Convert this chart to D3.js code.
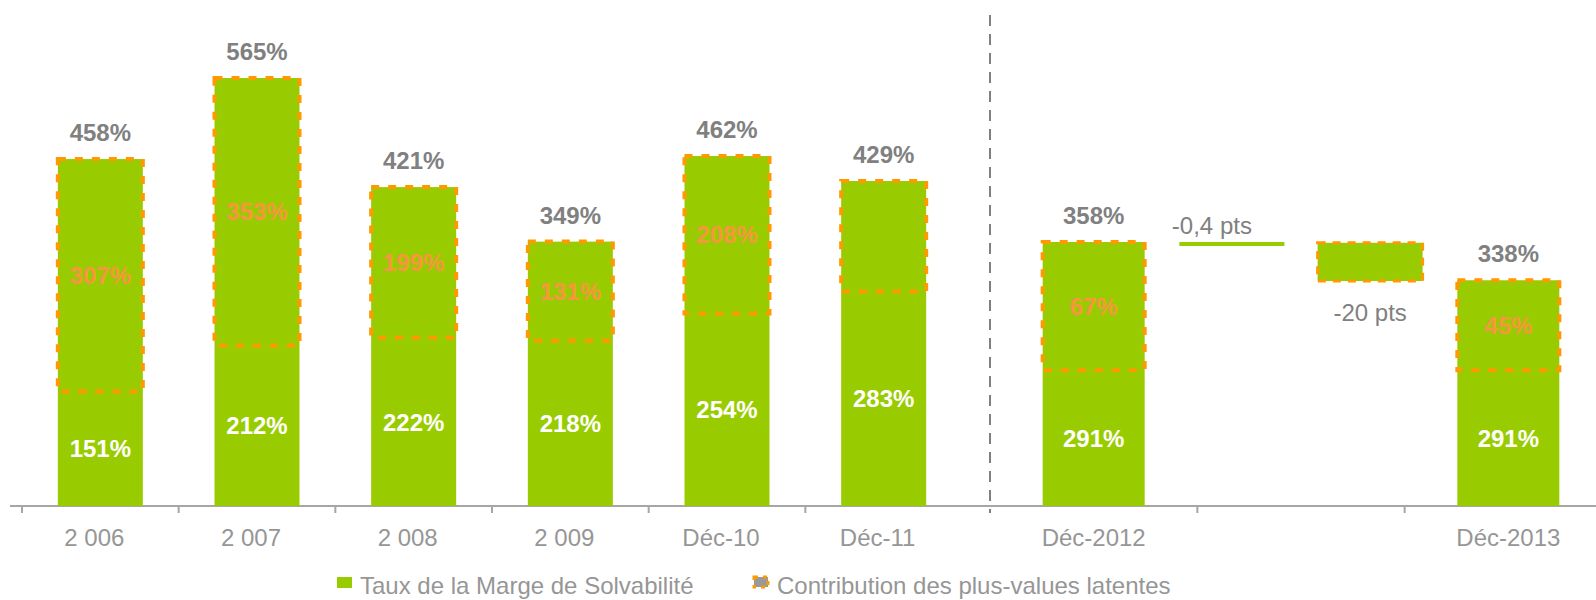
<!DOCTYPE html>
<html>
<head>
<meta charset="utf-8">
<script src="https://cdn.jsdelivr.net/npm/d3@7"></script>
<style>
  html, body { margin: 0; padding: 0; background: #fff; }
  svg { display: block; font-family: "Liberation Sans", Arial, sans-serif; }
</style>
</head>
<body>
<svg id="chart" width="1596" height="600"></svg>
<script>
// ---- Data ----
const leftCats = ["2 006", "2 007", "2 008", "2 009", "Déc-10", "Déc-11"];
const leftTotals = [458, 565, 421, 349, 462, 429];
const leftBases = [151, 212, 222, 218, 254, 283];
const leftContrib = [307, 353, 199, 131, 208, null];

const rightGroups = ["Déc-2012", "Variation", "Déc-2013"];
const rightTickLabels = ["Déc-2012", "", "Déc-2013"];
const rightBarCats = ["Déc-2012", "Déc-2013"];
const rightTotals = [358, 338];
const rightBases = [291, 291];
const rightContrib = [67, 45];

const stepLabels = ["-0,4 pts", "-20 pts"];
const stepValues = [-0.4, -20];

const legendLabels = ["Taux de la Marge de Solvabilité", "Contribution des plus-values latentes"];

// ---- Styles ----
const GREEN = "#99CC00", ORANGE = "#FF9900", CONTRIB_TXT = "#F7963E";
const GRAY_DARK = "#808080", GRAY_TXT = "#969696", AXIS = "#a6a6a6";
const FS = 24;

const svg = d3.select("#chart");
const baseY = 506;

// ---- Scales ----
const xL = d3.scaleBand().domain(leftCats).range([22, 962]);
const yL = d3.scaleLinear().domain([0, 565]).range([baseY, 78]);
const xR = d3.scaleBand().domain(rightGroups).range([990, 1612]);
const yR = d3.scaleLinear().domain([220, 358]).range([baseY, 242]);
const xStep = d3.scalePoint().domain(stepLabels)
  .range([xR("Variation"), xR("Variation") + xR.bandwidth()]).padding(0.25);

const barWL = 85, barWR = 102, stepW = 105;

// ---- Axis ----
svg.append("line").attr("x1", 10).attr("x2", 1596).attr("y1", baseY).attr("y2", baseY)
  .attr("stroke", AXIS).attr("stroke-width", 2);

const leftTicks = leftCats.map(c => xL(c));
const rightTicks = rightGroups.slice(1).map(g => xR(g));
svg.selectAll("line.tick").data(leftTicks.concat(rightTicks)).enter().append("line")
  .attr("class", "tick")
  .attr("x1", d => d).attr("x2", d => d).attr("y1", baseY).attr("y2", baseY + 7)
  .attr("stroke", AXIS).attr("stroke-width", 2);

// separator
svg.append("line").attr("x1", xR.range()[0]).attr("x2", xR.range()[0])
  .attr("y1", 15).attr("y2", baseY + 7)
  .attr("stroke", GRAY_DARK).attr("stroke-width", 2).attr("stroke-dasharray", "11,8");

// tick labels
svg.selectAll("text.xl").data(leftCats).enter().append("text")
  .attr("x", d => xL(d) + xL.bandwidth() / 2 - 6).attr("y", 546)
  .attr("text-anchor", "middle").attr("font-size", FS).attr("fill", GRAY_TXT).text(d => d);
svg.selectAll("text.xr").data(rightGroups).enter().append("text")
  .attr("x", d => xR(d) + xR.bandwidth() / 2).attr("y", 546)
  .attr("text-anchor", "middle").attr("font-size", FS).attr("fill", GRAY_TXT)
  .text((d, i) => rightTickLabels[i]);

// ---- Bars ----
function drawBars(cats, totals, bases, contrib, xc, y, w) {
  const g = svg.append("g");
  cats.forEach((c, i) => {
    const cx = xc(c);
    const x0 = cx - w / 2;
    g.append("rect").attr("x", x0).attr("y", y(totals[i]))
      .attr("width", w).attr("height", baseY - y(totals[i])).attr("fill", GREEN);
    g.append("rect").attr("x", x0).attr("y", y(totals[i]))
      .attr("width", w).attr("height", y(bases[i]) - y(totals[i]))
      .attr("fill", "none").attr("stroke", ORANGE).attr("stroke-width", 4)
      .attr("stroke-dasharray", "8,9");
    // total label
    g.append("text").attr("x", cx).attr("y", y(totals[i]) - 18)
      .attr("text-anchor", "middle").attr("font-size", FS).attr("font-weight", "bold")
      .attr("fill", GRAY_DARK).text(totals[i] + "%");
    // contribution label
    if (contrib[i] != null) {
      g.append("text").attr("x", cx).attr("y", (y(totals[i]) + y(bases[i])) / 2)
        .attr("dy", "0.36em")
        .attr("text-anchor", "middle").attr("font-size", FS).attr("font-weight", "bold")
        .attr("fill", CONTRIB_TXT).text(contrib[i] + "%");
    }
    // base label
    g.append("text").attr("x", cx).attr("y", (y(bases[i]) + baseY) / 2)
      .attr("dy", "0.36em")
      .attr("text-anchor", "middle").attr("font-size", FS).attr("font-weight", "bold")
      .attr("fill", "#fff").text(bases[i] + "%");
  });
}
drawBars(leftCats, leftTotals, leftBases, leftContrib, c => xL(c) + xL.bandwidth() / 2, yL, barWL);
drawBars(rightBarCats, rightTotals, rightBases, rightContrib, c => xR(c) + xR.bandwidth() / 2, yR, barWR);

// ---- Waterfall steps ----
let level = rightTotals[0];
stepLabels.forEach((lab, i) => {
  const next = level + stepValues[i];
  const yTop = yR(Math.max(level, next));
  const hRaw = Math.abs(yR(next) - yR(level));
  const h = Math.max(4, hRaw);
  const cx = xStep(lab);
  const thin = hRaw < 4;
  svg.append("rect").attr("x", cx - stepW / 2).attr("y", yTop).attr("width", stepW)
    .attr("height", h).attr("fill", GREEN);
  if (!thin) {
    svg.append("rect").attr("x", cx - stepW / 2).attr("y", yTop).attr("width", stepW)
      .attr("height", h).attr("fill", "none").attr("stroke", ORANGE)
      .attr("stroke-width", 3).attr("stroke-dasharray", "8,7");
  }
  svg.append("text").attr("x", thin ? cx - 20 : cx)
    .attr("y", thin ? yTop - 8 : yTop + h + 40)
    .attr("text-anchor", "middle").attr("font-size", FS).attr("fill", GRAY_DARK).text(lab);
  level = next;
});

// ---- Legend ----
const lg = svg.append("g");
lg.append("rect").attr("x", 337).attr("y", 577).attr("width", 15).attr("height", 11).attr("fill", GREEN);
lg.append("text").attr("x", 360).attr("y", 594).attr("font-size", FS).attr("fill", GRAY_TXT).text(legendLabels[0]);
lg.append("rect").attr("x", 754).attr("y", 577).attr("width", 14).attr("height", 10)
  .attr("fill", "#999").attr("stroke", ORANGE).attr("stroke-width", 3).attr("stroke-dasharray", "4,5");
lg.append("text").attr("x", 777).attr("y", 594).attr("font-size", FS).attr("fill", GRAY_TXT).text(legendLabels[1]);
</script>
</body>
</html>
